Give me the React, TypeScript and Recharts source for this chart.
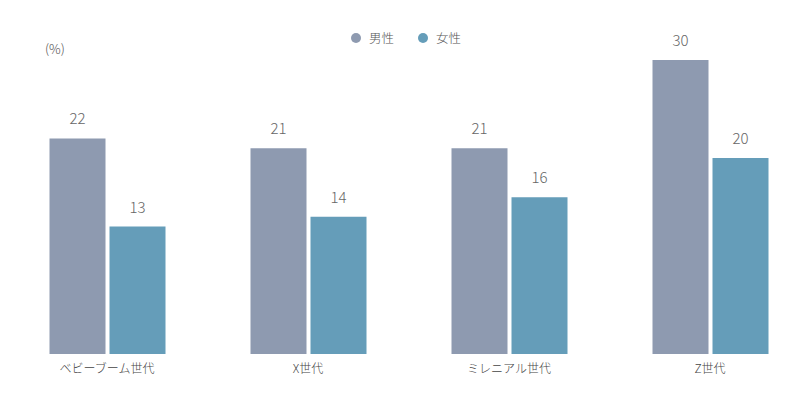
import React from "react";
import { BarChart, Bar, XAxis, YAxis, LabelList, Legend } from "recharts";

const categories = ["ベビーブーム世代", "X世代", "ミレニアル世代", "Z世代"];
const maleValues = [22, 21, 21, 30];
const femaleValues = [13, 14, 16, 20];
const seriesNames = ["男性", "女性"];
const colors = ["#8e9ab0", "#659db9"];

const data = categories.map((c, i) => ({
  idx: i,
  name: c,
  male: maleValues[i],
  female: femaleValues[i],
}));

const FONT = '"Noto Sans CJK JP", "Noto Sans", sans-serif';

const LegendContent = () => (
  <div style={{ display: "flex", alignItems: "center", fontFamily: FONT, fontSize: 12.5, fontWeight: 300, color: "#555" }}>
    {seriesNames.map((n, i) => (
      <div key={n} style={{ display: "flex", alignItems: "center", marginRight: i === 0 ? 24 : 0 }}>
        <span
          style={{
            display: "inline-block",
            width: 10,
            height: 10,
            borderRadius: "50%",
            background: colors[i],
            marginRight: 8,
          }}
        />
        <span>{n}</span>
      </div>
    ))}
  </div>
);

export default function App() {
  return (
    <div style={{ position: "absolute", left: 0, top: 0, width: 800, height: 402, background: "#fff" }}>
      <div
        style={{
          position: "absolute",
          left: 45,
          top: 39,
          fontFamily: FONT,
          fontSize: 13,
          fontWeight: 300,
          color: "#555",
        }}
      >
        (%)
      </div>
      <BarChart
        width={800}
        height={402}
        data={data}
        margin={{ top: 60, right: 90, bottom: 18, left: 107 }}
        barGap={4}
      >
        <XAxis
          dataKey="idx"
          type="number"
          domain={[0, 3]}
          ticks={[0, 1, 2, 3]}
          tickFormatter={(v: number) => categories[v]}
          axisLine={false}
          tickLine={false}
          tickSize={0}
          tickMargin={10}
          height={30}
          interval={0}
          tick={{ fill: "#444", fontSize: 12, fontFamily: FONT, fontWeight: 300 }}
        />
        <YAxis hide domain={[0, 30]} />
        <Legend
          layout="horizontal"
          verticalAlign="middle"
          align="center"
          content={<LegendContent />}
          wrapperStyle={{ position: "absolute", top: 28, left: 351, width: "auto" }}
        />
        <Bar dataKey="male" name={seriesNames[0]} fill={colors[0]} barSize={56} isAnimationActive={false}>
          <LabelList dataKey="male" position="top" offset={14} fill="#666" fontSize={15} fontWeight={300} fontFamily={FONT} />
        </Bar>
        <Bar dataKey="female" name={seriesNames[1]} fill={colors[1]} barSize={56} isAnimationActive={false}>
          <LabelList dataKey="female" position="top" offset={14} fill="#666" fontSize={15} fontWeight={300} fontFamily={FONT} />
        </Bar>
      </BarChart>
    </div>
  );
}
